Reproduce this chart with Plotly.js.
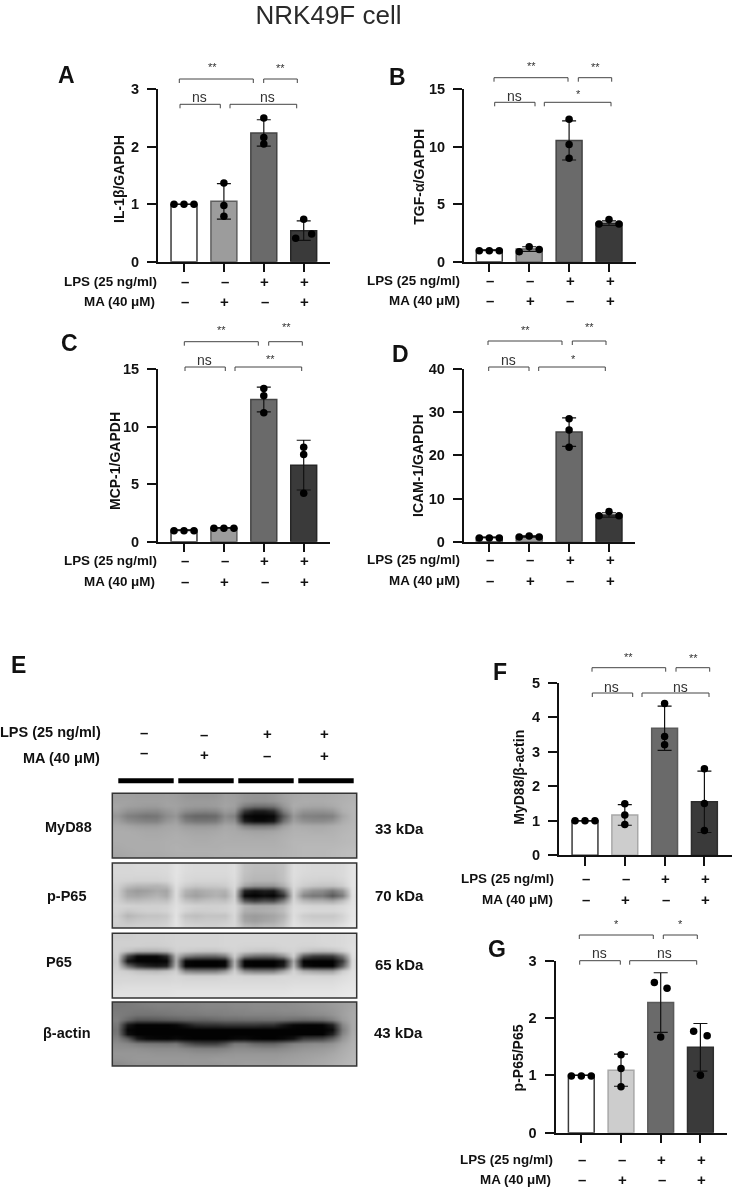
<!DOCTYPE html>
<html><head><meta charset="utf-8">
<script src="https://cdn.plot.ly/plotly-3.0.1.min.js"></script>
<style>html,body{margin:0;padding:0;background:#fff} #chart{filter:grayscale(1)}</style>
</head><body><div id="chart" style="width:733px;height:1190px"></div>
<script>
// ---------- data ----------
const groups = [0, 1, 2, 3];
const lpsSigns = ['–', '–', '+', '+'];
const maSigns = ['–', '+', '–', '+'];

const il1Mean = [1, 1.05, 2.24, 0.54];
const il1Sd = [0, 0.31, 0.23, 0.17];
const il1Pts = [[1, 1, 1], [1.37, 0.98, 0.79], [2.5, 2.16, 2.05], [0.74, 0.41, 0.48]];
const il1Off = [[-.25, 0, .25], [0, 0, 0], [0, 0, 0], [0, -.2, .2]];

const tgfMean = [1, 1.1, 10.55, 3.35];
const tgfSd = [0.03, 0.2, 1.7, 0.2];
const tgfPts = [[0.96, 0.96, 0.96], [0.87, 1.3, 1.07], [12.4, 10.2, 9.0], [3.27, 3.68, 3.27]];
const tgfOff = [[-.25, 0, .25], [-.25, 0, .25], [0, 0, 0], [-.25, 0, .25]];

const mcpMean = [1, 1.2, 12.35, 6.65];
const mcpSd = [0.03, 0.03, 1.08, 2.16];
const mcpPts = [[0.96, 0.96, 0.96], [1.16, 1.16, 1.16], [13.3, 12.67, 11.2], [8.2, 7.57, 4.2]];
const mcpOff = [[-.25, 0, .25], [-.25, 0, .25], [0, 0, 0], [0, 0, 0]];

const icamMean = [1, 1.2, 25.4, 6.2];
const icamSd = [0.05, 0.15, 3.3, 0.5];
const icamPts = [[0.85, 0.85, 0.85], [1.08, 1.3, 1.08], [28.5, 25.9, 21.9], [6.0, 7.0, 6.0]];
const icamOff = [[-.25, 0, .25], [-.25, 0, .25], [0, 0, 0], [-.25, 0, .25]];

const mydMean = [1, 1.17, 3.68, 1.55];
const mydSd = [0, 0.3, 0.64, 0.89];
const mydPts = [[1, 1, 1], [1.49, 1.17, 0.89], [4.4, 3.44, 3.2], [2.51, 1.5, 0.72]];
const mydOff = [[-.25, 0, .25], [0, 0, 0], [0, 0, 0], [0, 0, 0]];

const p65Mean = [1, 1.09, 2.27, 1.49];
const p65Sd = [0, 0.28, 0.52, 0.415];
const p65Pts = [[0.99, 0.99, 0.99], [1.36, 1.12, 0.8], [2.62, 2.52, 1.67], [1.77, 1.69, 1.0]];
const p65Off = [[-.25, 0, .25], [0, 0, 0], [-.16, .16, 0], [-.17, .17, 0]];

// grey levels of the blots on a coarse grid
const blotMyD88 = [
[160,160,158,158,158,160,158,152,150,150,152,160,158,150,148,148,152,162,168,170,170,170,172,175,178],
[162,162,160,160,160,162,160,156,155,155,157,162,160,150,146,146,150,160,170,172,172,172,174,177,180],
[165,160,158,156,156,162,162,156,154,154,156,164,160,125,112,112,118,150,172,168,166,166,170,178,182],
[160,146,142,138,138,150,158,140,134,132,136,155,150,55,28,28,45,125,165,148,146,146,152,175,182],
[150,128,122,115,118,140,150,112,102,102,106,140,128,10,4,4,8,90,152,130,128,125,130,165,182],
[160,142,135,130,130,150,160,128,118,118,122,150,145,28,10,10,20,112,160,145,140,140,148,172,182],
[170,165,160,158,158,166,168,158,154,154,156,168,165,130,120,120,125,158,175,172,170,170,174,180,184],
[172,172,170,168,168,170,172,168,166,166,168,172,170,165,162,162,164,172,178,178,176,176,178,182,185],
[172,172,172,170,170,172,174,172,170,170,172,174,172,172,170,170,172,176,180,180,180,180,180,184,186],
[172,172,172,172,172,174,174,174,172,172,174,174,174,174,174,174,174,178,182,182,182,182,182,184,186],
[170,172,172,172,172,174,176,174,174,174,174,176,176,176,176,176,176,178,182,184,184,184,184,186,188],
[168,170,172,172,172,174,176,176,176,176,176,178,178,178,178,178,178,180,182,184,184,184,186,188,190],
[165,168,170,170,170,172,174,174,174,174,176,176,176,178,178,178,178,180,182,184,184,184,186,188,190]];
const blotPP65 = [
[215,215,218,218,218,218,228,220,218,218,218,218,222,195,190,190,190,195,222,218,216,216,216,218,228],
[215,215,216,216,216,218,228,220,218,218,218,218,222,195,188,188,188,195,222,218,216,216,216,218,228],
[214,214,214,214,214,216,228,218,216,216,216,216,222,192,185,185,185,195,222,216,214,214,214,218,228],
[212,210,208,208,208,212,226,216,212,212,212,212,220,188,180,180,180,192,220,212,210,208,208,214,228],
[208,190,182,182,180,188,224,205,198,200,200,204,218,165,150,150,150,175,218,205,198,195,195,205,228],
[205,165,155,160,170,165,222,180,168,175,180,178,215,35,20,30,25,100,215,165,145,140,120,150,226],
[205,170,165,172,180,170,222,172,160,170,178,170,210,8,2,10,4,50,212,135,120,120,90,125,225],
[208,190,188,192,195,192,222,195,185,192,195,192,212,85,60,75,70,125,215,185,175,175,165,190,226],
[212,210,208,208,208,210,224,214,210,208,208,210,218,180,170,170,172,185,220,215,212,212,212,218,228],
[210,200,205,208,208,212,226,212,205,206,208,210,218,175,172,175,178,190,222,218,215,215,215,220,230],
[205,182,190,195,195,200,226,195,190,195,195,195,216,160,155,160,165,180,222,205,200,200,200,212,230],
[208,195,200,202,202,206,228,205,200,202,202,204,216,165,158,165,170,188,224,212,208,208,208,216,232],
[205,205,208,208,208,212,228,212,210,208,208,212,216,185,178,185,185,198,226,220,218,218,218,225,235]];
const blotP65 = [
[205,205,208,208,208,210,212,212,212,212,212,214,214,214,214,214,214,214,214,214,214,216,216,218,222],
[208,208,208,208,208,210,212,212,212,212,212,214,214,214,214,214,214,214,214,214,214,216,216,218,222],
[208,208,208,206,206,208,212,212,212,212,212,214,214,212,212,212,212,214,214,212,212,214,216,218,224],
[208,195,180,178,178,185,208,205,200,198,198,205,212,205,200,198,200,208,212,200,190,188,192,208,224],
[205,70,10,8,8,40,185,130,110,105,105,125,205,130,110,105,110,145,208,90,60,55,60,120,222],
[200,20,2,2,2,5,175,6,2,2,2,6,180,4,2,2,2,20,170,2,2,2,2,60,218],
[205,110,55,35,25,35,185,5,2,2,2,8,185,6,2,2,2,30,185,15,4,2,2,95,220],
[210,205,195,190,185,195,208,135,125,125,125,150,208,140,125,125,125,165,212,175,165,160,160,205,224],
[214,214,212,212,212,212,216,210,208,208,208,212,216,212,210,210,212,216,216,214,214,212,212,220,226],
[216,216,216,216,216,216,218,216,216,216,216,218,218,218,218,218,218,218,220,220,220,220,220,224,228],
[220,222,222,222,222,222,222,222,222,222,222,222,222,222,222,222,222,222,224,224,224,224,224,228,230],
[224,224,224,224,224,224,226,226,226,226,226,226,226,226,226,226,226,226,228,228,228,228,228,230,232],
[226,226,226,226,226,226,228,228,228,228,228,228,228,228,228,228,228,230,230,230,230,230,230,232,234]];
const blotActin = [
[120,122,125,128,130,130,130,132,132,135,135,135,138,138,140,140,140,140,142,145,148,150,155,160,165],
[122,122,122,122,125,125,128,128,130,132,132,132,135,135,138,138,138,140,140,142,145,148,152,160,168],
[125,120,115,115,115,118,120,122,122,125,125,128,128,130,130,130,130,132,132,135,138,140,148,160,170],
[128,105,85,85,88,92,95,100,100,100,105,108,108,110,110,112,112,112,108,105,108,112,128,155,170],
[120,25,3,3,3,3,8,25,45,50,50,55,55,55,55,50,50,25,8,4,3,5,35,135,170],
[115,6,2,2,2,2,2,2,2,2,2,2,2,2,2,2,2,2,2,2,2,2,12,125,170],
[120,15,2,2,2,2,2,2,2,2,2,2,2,2,2,2,2,2,2,2,2,2,35,135,172],
[130,95,30,10,6,4,10,4,2,2,2,2,8,10,4,2,2,8,20,60,65,70,100,150,175],
[140,135,125,120,118,115,120,90,70,65,65,85,120,120,105,100,100,115,130,135,140,140,148,165,178],
[145,145,145,142,140,140,140,135,130,128,128,132,140,140,138,135,135,140,145,150,152,155,160,172,180],
[150,150,150,150,148,148,148,148,145,145,145,148,150,150,150,150,150,152,155,158,160,162,168,175,182],
[148,150,152,152,152,152,152,152,152,152,155,155,155,155,155,155,155,158,160,162,165,168,172,178,184],
[140,145,148,148,150,150,150,152,152,152,152,155,155,158,158,158,158,160,162,165,168,170,175,180,185]];

// ---------- page geometry ----------
const W = 733, H = 1190;
const X = p => p / W, Y = p => 1 - p / H;
const FONT = 'Liberation Sans, Arial, sans-serif';
const INK = '#111';

const fillsDark = ['#ffffff', '#9c9c9c', '#6a6a6a', '#3a3a3a'];
const edgesDark = ['#3a3a3a', '#5e5e5e', '#444444', '#262626'];
const fillsLight = ['#ffffff', '#cdcdcd', '#6a6a6a', '#3a3a3a'];
const edgesLight = ['#3a3a3a', '#a8a8a8', '#5a5a5a', '#2e2e2e'];

const panels = [
 {letter:'A', lx:66, ly:75, title:'IL-1β/GAPDH', tx:119, ty:179, mean:il1Mean, sd:il1Sd, pts:il1Pts, off:il1Off,
  left:158.3, right:330, base:261.7, top:89.3, first:184, step:39.9, ymax:3, dtick:[0,1,2,3], fills:fillsDark, edges:edgesDark,
  rowY:[281,301], rowR:[157.7,156],
  br:[[179.3,253.3,79],[263.7,297.3,79],[180,220.3,104.3],[230,296.7,104.3]],
  marks:[['**',212.7,67],['**',280.7,68],['ns',199.7,97.3],['ns',267.7,97.3]]},
 {letter:'B', lx:397.3, ly:77.3, title:'TGF-α/GAPDH', tx:419, ty:176.7, mean:tgfMean, sd:tgfSd, pts:tgfPts, off:tgfOff,
  left:464.3, right:635.7, base:261.7, top:89.3, first:489.3, step:39.9, ymax:15, dtick:[0,5,10,15], fills:fillsDark, edges:edgesDark,
  rowY:[280,300.7], rowR:[461,461],
  br:[[494,568,77.7],[578.3,611.7,77.7],[494.7,535,102.3],[544.3,611,102.3]],
  marks:[['**',531,66],['**',595,67],['ns',514,96],['*',578,94]]},
 {letter:'C', lx:69, ly:343.3, title:'MCP-1/GAPDH', tx:115, ty:461, mean:mcpMean, sd:mcpSd, pts:mcpPts, off:mcpOff,
  left:158.3, right:330, base:541.7, top:369, first:184, step:39.9, ymax:15, dtick:[0,5,10,15], fills:fillsDark, edges:edgesDark,
  rowY:[560,581], rowR:[158,156],
  br:[[184.3,258.3,341.7],[268.7,302.3,341.7],[185,225.3,367],[235,301.7,367]],
  marks:[['**',221.3,330],['**',286,327],['ns',204.7,360],['**',270.7,358.5]]},
 {letter:'D', lx:400.7, ly:354, title:'ICAM-1/GAPDH', tx:417.3, ty:465.7, mean:icamMean, sd:icamSd, pts:icamPts, off:icamOff,
  left:464, right:635.3, base:541.7, top:369, first:489.3, step:39.9, ymax:40, dtick:[0,10,20,30,40], fills:fillsDark, edges:edgesDark,
  rowY:[559,580], rowR:[461,461],
  br:[[488,562,341],[572.3,606,341],[488.7,529,367],[538.7,605.3,367]],
  marks:[['**',525,330],['**',589.3,327],['ns',508,360],['*',573.3,358.5]]},
 {letter:'F', lx:500, ly:671.7, title:'MyD88/β-actin', tx:519, ty:777.7, mean:mydMean, sd:mydSd, pts:mydPts, off:mydOff,
  left:559.3, right:731.7, base:855.3, top:682.7, first:585, step:39.8, ymax:5, dtick:[0,1,2,3,4,5], fills:fillsLight, edges:edgesLight,
  rowY:[878,899], rowR:[555,554],
  br:[[592,665.7,667.7],[676,709.7,667.7],[592.3,632.7,693],[642,709,693]],
  marks:[['**',628.7,657],['**',693,658],['ns',611.7,686.7],['ns',680,686.7]]},
 {letter:'G', lx:497.3, ly:949.3, title:'p-P65/P65', tx:517.7, ty:1057.7, mean:p65Mean, sd:p65Sd, pts:p65Pts, off:p65Off,
  left:555.7, right:726.7, base:1132.7, top:960.7, first:581.3, step:39.7, ymax:3, dtick:[0,1,2,3], fills:fillsLight, edges:edgesLight,
  rowY:[1159,1179], rowR:[553.7,552],
  br:[[579.3,653.3,935],[663.3,697.3,935],[579.7,620.3,960.7],[629.7,696.7,960.7]],
  marks:[['*',616.3,924],['*',680.3,924],['ns',599.7,953.3],['ns',664.7,953.3]]}
];

const blots = [
 {z:blotMyD88, name:'MyD88', kda:'33 kDa', top:793.3, bot:858, lx:68.3, ly:826.7, kx:399.3, ky:828},
 {z:blotPP65, name:'p-P65', kda:'70 kDa', top:863, bot:928, lx:66.7, ly:895.7, kx:399.3, ky:895.7},
 {z:blotP65, name:'P65', kda:'65 kDa', top:933.3, bot:998, lx:59.3, ly:961.7, kx:399, ky:964},
 {z:blotActin, name:'β-actin', kda:'43 kDa', top:1002, bot:1066, lx:66.7, ly:1033.3, kx:398.3, ky:1032.3}
];
const BL = 112.3, BR = 356.7;

// ---------- build ----------
const traces = [], annotations = [], shapes = [];
const layout = {
  width: W, height: H, margin: {l:0, r:0, t:0, b:0}, autosize: false, showlegend: false,
  paper_bgcolor: '#fff', plot_bgcolor: 'rgba(0,0,0,0)', font: {family: FONT, color: INK},
  title: {text: 'NRK49F cell', x: 328.5 / W, xanchor: 'center', xref: 'paper', y: 1 - 15 / H, yanchor: 'middle', yref: 'paper',
          font: {family: FONT, size: 26, color: '#2a2a2a'}},
  bargap: 0.35
};

function text(str, px, py, opt) {
  annotations.push(Object.assign({text: str, x: X(px), y: Y(py), xref: 'paper', yref: 'paper', showarrow: false,
    xanchor: 'center', yanchor: 'middle', borderpad: 0, font: {family: FONT, size: 13.4, color: INK, weight: 700}}, opt || {}));
}
const bold = s => ({font: {family: FONT, size: s, color: INK, weight: 700}});

let axisNo = 0;
function axisKeys() {
  axisNo++;
  const s = axisNo === 1 ? '' : String(axisNo);
  return {x: 'x' + s, y: 'y' + s, xa: 'xaxis' + s, ya: 'yaxis' + s};
}

panels.forEach(p => {
  const k = axisKeys();
  layout[k.xa] = {domain: [X(p.left), X(p.right)], range: [(p.left - p.first) / p.step, (p.right - p.first) / p.step],
    anchor: k.y, tickmode: 'array', tickvals: groups, ticktext: groups.map(() => ''), ticks: 'outside', ticklen: 8.5, tickwidth: 2,
    tickcolor: INK, showline: true, linewidth: 2, linecolor: INK, showgrid: false, zeroline: false, fixedrange: true};
  layout[k.ya] = {domain: [Y(p.base), Y(p.top)], range: [0, p.ymax], anchor: k.x, tickmode: 'array', tickvals: p.dtick,
    ticktext: p.dtick.map(String), ticks: 'outside', ticklen: 9, tickwidth: 2, tickcolor: INK, showline: true, linewidth: 2.2,
    linecolor: INK, showgrid: false, zeroline: false, fixedrange: true, ticklabelstandoff: 5,
    tickfont: {family: FONT, size: 14.5, color: INK, weight: 700}};
  traces.push({type: 'bar', x: groups, y: p.mean, xaxis: k.x, yaxis: k.y, width: 0.65,
    marker: {color: p.fills, line: {color: p.edges, width: 1.5}},
    error_y: {type: 'data', array: p.sd, visible: true, color: INK, thickness: 1.2, width: 7}});
  const px = [], py = [];
  p.pts.forEach((g, i) => g.forEach((v, j) => { px.push(groups[i] + p.off[i][j]); py.push(v); }));
  traces.push({type: 'scatter', mode: 'markers', x: px, y: py, xaxis: k.x, yaxis: k.y, cliponaxis: false,
    marker: {color: '#000', size: 7.5}});
  text(p.letter, p.lx, p.ly, bold(23));
  text(p.title, p.tx, p.ty, Object.assign({textangle: -90}, bold(14)));
  text('LPS (25 ng/ml)', p.rowR[0], p.rowY[0], {xanchor: 'right'});
  text('MA (40 μM)', p.rowR[1], p.rowY[1], {xanchor: 'right'});
  groups.forEach(i => {
    const cx = p.first + i * p.step + 1;
    text(lpsSigns[i], cx, p.rowY[0], bold(15));
    text(maSigns[i], cx, p.rowY[1], bold(15));
  });
  p.br.forEach(b => {
    shapes.push({type: 'path', xref: 'paper', yref: 'paper', line: {color: '#444', width: 1},
      path: `M ${X(b[0])} ${Y(b[2] + 4)} L ${X(b[0])} ${Y(b[2])} L ${X(b[1])} ${Y(b[2])} L ${X(b[1])} ${Y(b[2] + 4)}`});
  });
  p.marks.forEach(m => {
    const isNs = m[0] === 'ns';
    text(m[0], m[1], m[2], {font: {family: FONT, size: isNs ? 14 : 11, color: '#333', weight: 400}});
  });
});

blots.forEach(b => {
  const k = axisKeys();
  layout[k.xa] = {domain: [X(BL), X(BR)], range: [-0.5, 24.5], anchor: k.y, visible: false, fixedrange: true};
  layout[k.ya] = {domain: [Y(b.bot), Y(b.top)], range: [12.5, -0.5], anchor: k.x, visible: false, fixedrange: true};
  traces.push({type: 'heatmap', z: b.z, xaxis: k.x, yaxis: k.y, zmin: 0, zmax: 255, zsmooth: 'best', showscale: false, hoverinfo: 'skip',
    colorscale: [[0, '#000'], [1, '#fff']]});
  shapes.push({type: 'rect', xref: 'paper', yref: 'paper', x0: X(BL), x1: X(BR), y0: Y(b.bot), y1: Y(b.top), line: {color: '#333', width: 1.5}});
  text(b.name, b.lx, b.ly, bold(14.5));
  text(b.kda, b.kx, b.ky, bold(15));
});

// panel E header
text('E', 18, 665, bold(23));
text('LPS (25 ng/ml)', 101.7, 731.7, Object.assign({xanchor: 'right'}, bold(14.5)));
text('MA (40 μM)', 100.7, 757.7, Object.assign({xanchor: 'right'}, bold(14.5)));
const laneX = [144, 204, 267, 324.5];
const lpsRowY = [732.7, 734, 733, 733], maRowY = [752.7, 754.7, 755.7, 755];
groups.forEach(i => {
  text(lpsSigns[i], laneX[i], lpsRowY[i], bold(15));
  text(maSigns[i], laneX[i], maRowY[i], bold(15));
});
[[118.3, 173.7], [178.3, 233.7], [238.3, 293.7], [298.3, 353.7]].forEach(s => {
  shapes.push({type: 'rect', xref: 'paper', yref: 'paper', x0: X(s[0]), x1: X(s[1]), y0: Y(783.3), y1: Y(778.3), fillcolor: '#000', line: {width: 0}});
});

layout.annotations = annotations;
layout.shapes = shapes;
Plotly.newPlot('chart', traces, layout, {displayModeBar: false, staticPlot: true});
</script></body></html>
